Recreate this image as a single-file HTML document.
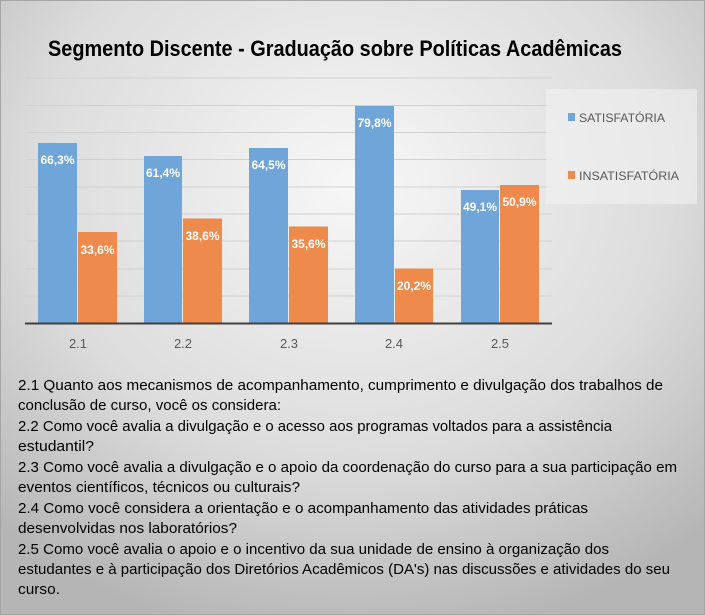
<!DOCTYPE html>
<html><head><meta charset="utf-8"><style>
html,body{margin:0;padding:0;width:705px;height:615px;overflow:hidden}
</style></head><body>
<svg width="705" height="615" xmlns="http://www.w3.org/2000/svg" font-family="'Liberation Sans', sans-serif">
<defs>
<radialGradient id="bg" cx="50%" cy="30%" r="75%">
<stop offset="0" stop-color="#f7f7f7"/><stop offset="0.6" stop-color="#dcdcdc"/><stop offset="1" stop-color="#b5b5b5"/>
</radialGradient>
</defs>
<rect x="0" y="0" width="705" height="615" fill="url(#bg)"/>
<rect x="0.5" y="0.5" width="704" height="614" fill="none" stroke="#a6a6a6"/>
<text x="48" y="56" font-size="22" font-weight="bold" fill="#000" textLength="574" lengthAdjust="spacingAndGlyphs">Segmento Discente - Graduação  sobre Políticas Acadêmicas</text>
<g stroke="#d0d0d0" stroke-width="1">
<line x1="25" x2="552" y1="78" y2="78"/><line x1="25" x2="552" y1="105.5" y2="105.5"/>
<line x1="25" x2="552" y1="132.5" y2="132.5"/><line x1="25" x2="552" y1="159.5" y2="159.5"/>
<line x1="25" x2="552" y1="187" y2="187"/><line x1="25" x2="552" y1="214" y2="214"/>
<line x1="25" x2="552" y1="241" y2="241"/><line x1="25" x2="552" y1="269" y2="269"/>
<line x1="25" x2="552" y1="296" y2="296"/>
</g>
<rect x="546" y="89" width="151" height="115" fill="#f2f2f2" opacity="0.6"/>
<g fill="#6fa5d8">
<rect x="38" y="143" width="39" height="180.5"/>
<rect x="144" y="156" width="38" height="167.5"/>
<rect x="249" y="148" width="39" height="175.5"/>
<rect x="355" y="106" width="39" height="217.5"/>
<rect x="461" y="190" width="38" height="133.5"/>
</g>
<g fill="#ee8a4c">
<rect x="78" y="232" width="39" height="91.5"/>
<rect x="183" y="218.5" width="39" height="105"/>
<rect x="289" y="226.5" width="39" height="97"/>
<rect x="395" y="268.5" width="38" height="55"/>
<rect x="500" y="185" width="39" height="138.5"/>
</g>
<line x1="25" x2="552" y1="323.5" y2="323.5" stroke="#404040" stroke-width="2"/>
<g font-size="12" font-weight="bold" fill="#fff" text-anchor="middle">
<text x="57.5" y="164">66,3%</text><text x="163" y="177">61,4%</text>
<text x="268.5" y="169">64,5%</text><text x="374.5" y="127">79,8%</text>
<text x="480" y="211">49,1%</text>
<text x="97.5" y="254">33,6%</text><text x="202.5" y="240">38,6%</text>
<text x="308.5" y="248">35,6%</text><text x="414" y="290">20,2%</text>
<text x="519.5" y="206">50,9%</text>
</g>
<g font-size="13" fill="#595959" text-anchor="middle">
<text x="78" y="348">2.1</text><text x="183" y="348">2.2</text><text x="289" y="348">2.3</text>
<text x="394" y="348">2.4</text><text x="500" y="348">2.5</text>
</g>
<rect x="568" y="113" width="7" height="8" fill="#6fa5d8"/>
<rect x="568" y="171" width="7" height="8" fill="#ee8a4c"/>
<g font-size="12" fill="#595959">
<text x="579" y="122" textLength="86" lengthAdjust="spacingAndGlyphs">SATISFATÓRIA</text>
<text x="579" y="180" textLength="100" lengthAdjust="spacingAndGlyphs">INSATISFATÓRIA</text>
</g>
<g font-size="15" fill="#000" lengthAdjust="spacingAndGlyphs">
<text x="18" y="390" textLength="645" lengthAdjust="spacingAndGlyphs">2.1 Quanto aos mecanismos de acompanhamento, cumprimento e divulgação dos trabalhos de</text>
<text x="18" y="410" textLength="263" lengthAdjust="spacingAndGlyphs">conclusão de curso, você os considera:</text>
<text x="18" y="431" textLength="594" lengthAdjust="spacingAndGlyphs">2.2 Como você avalia a divulgação e  o acesso aos programas voltados para a assistência</text>
<text x="18" y="451" textLength="76" lengthAdjust="spacingAndGlyphs">estudantil?</text>
<text x="18" y="472" textLength="659" lengthAdjust="spacingAndGlyphs">2.3 Como você avalia a divulgação e  o apoio da coordenação do curso para a sua participação em</text>
<text x="18" y="492" textLength="282" lengthAdjust="spacingAndGlyphs">eventos científicos, técnicos ou culturais?</text>
<text x="18" y="513" textLength="570" lengthAdjust="spacingAndGlyphs">2.4 Como você considera a orientação e  o acompanhamento das atividades práticas</text>
<text x="18" y="533" textLength="219" lengthAdjust="spacingAndGlyphs">desenvolvidas nos laboratórios?</text>
<text x="18" y="554" textLength="591" lengthAdjust="spacingAndGlyphs">2.5 Como você avalia o apoio e  o incentivo da sua unidade de ensino à organização dos</text>
<text x="18" y="574" textLength="652" lengthAdjust="spacingAndGlyphs">estudantes e à participação dos Diretórios Acadêmicos (DA's) nas discussões e atividades do seu</text>
<text x="18" y="594" textLength="42" lengthAdjust="spacingAndGlyphs">curso.</text>
</g>
</svg>
</body></html>
